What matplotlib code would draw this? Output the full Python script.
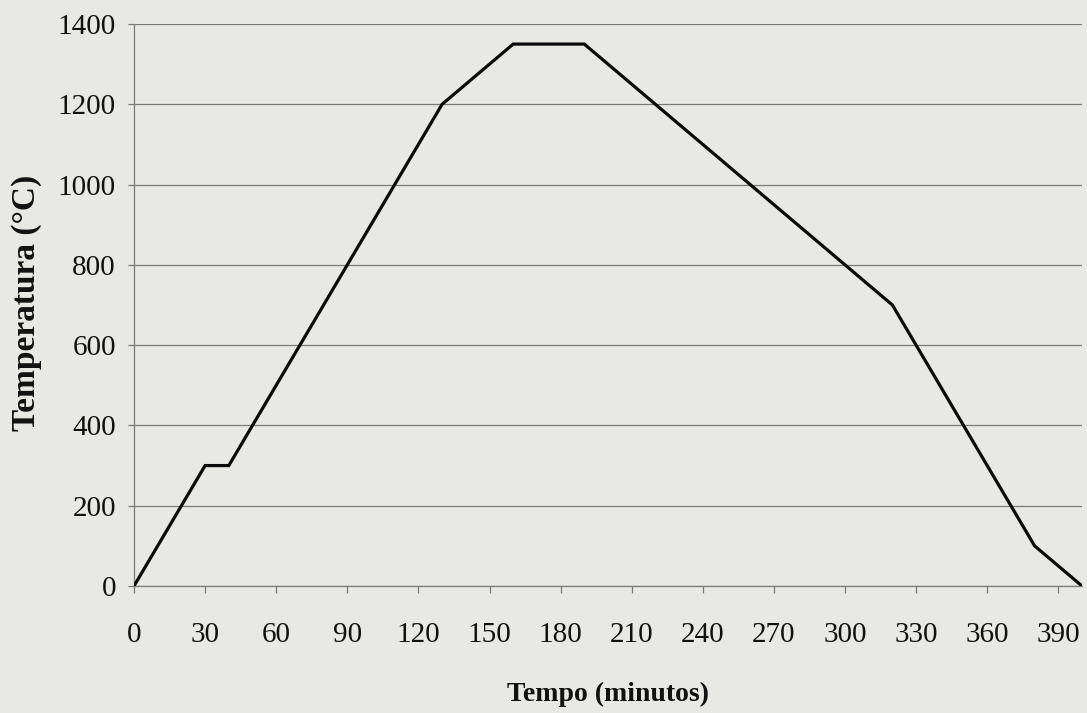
import matplotlib
matplotlib.use("Agg")
import matplotlib.pyplot as plt

# Data (time in minutes, temperature in °C)
tempo = [0, 30, 40, 120, 130, 160, 190, 320, 380, 400]
temperatura = [0, 300, 300, 1100, 1200, 1350, 1350, 700, 100, 0]
x_ticks = list(range(0, 391, 30))
y_ticks = list(range(0, 1401, 200))

bg = "#e8e9e5"
grid_c = "#7a7a7a"

plt.rcParams['font.family'] = ['Liberation Serif', 'DejaVu Serif']

fig = plt.figure(figsize=(10.87, 7.13), dpi=100, facecolor=bg)
ax = fig.add_axes([134/1087, 1 - 586/713, (1082-134)/1087, (586-24)/713])
ax.set_facecolor(bg)

ax.plot(tempo, temperatura, color="#0a0a0a", lw=2.3, solid_joinstyle="miter", zorder=3)

ax.set_xlim(0, 400)
ax.set_ylim(0, 1400)
ax.set_xticks(x_ticks)
ax.set_yticks(y_ticks)
ax.grid(axis="y", color=grid_c, lw=0.9)
ax.set_axisbelow(True)

for s in ["top", "right"]:
    ax.spines[s].set_visible(False)
ax.spines["left"].set_color(grid_c)
ax.spines["left"].set_linewidth(0.9)
ax.spines["bottom"].set_color(grid_c)
ax.spines["bottom"].set_linewidth(0.9)

ax.tick_params(axis="y", direction="out", length=4, width=0.9, color=grid_c,
               labelsize=21, pad=9, labelcolor="#111111")
ax.tick_params(axis="x", direction="out", length=5, width=0.9, color=grid_c,
               labelsize=21, pad=21, labelcolor="#111111")

ax.set_xlabel("Tempo (minutos)", fontsize=20, fontweight="bold", labelpad=24, color="#111111")
fig.text(27/1087, 1 - 303/713, "Temperatura (°C)", rotation=90, fontsize=24,
         fontweight="bold", ha="center", va="center", color="#111111")

fig.savefig("out.png", dpi=100, facecolor=bg)
